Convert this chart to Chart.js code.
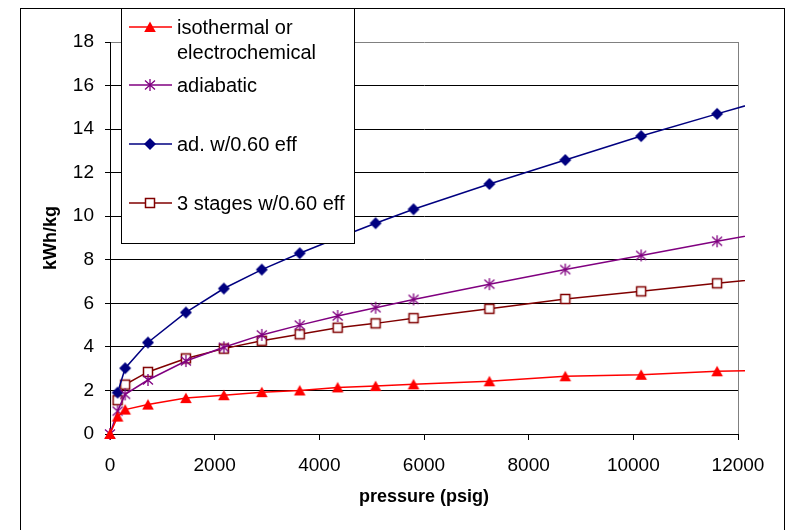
<!DOCTYPE html>
<html>
<head>
<meta charset="utf-8">
<title>kWh/kg vs pressure</title>
<script src="https://cdn.jsdelivr.net/npm/chart.js@4.4.1/dist/chart.umd.min.js"></script>
<style>
  html, body { margin: 0; padding: 0; background: #fff; }
  #wrap { position: relative; width: 787px; height: 530px; }
</style>
</head>
<body>
<div id="wrap"><canvas id="myChart" width="787" height="530"></canvas></div>
<script>
// Pressure points (psig)
const pressure = [0, 145, 290, 725, 1450, 2175, 2900, 3625, 4350, 5075, 5800, 7250, 8700, 10150, 11600, 13050];

// Energy in kWh/kg for each series (null = no point)
const isothermal = [0, 0.8, 1.12, 1.35, 1.65, 1.78, 1.92, 2.0, 2.14, 2.2, 2.28, 2.42, 2.65, 2.72, 2.88, 2.95];
const adiabatic = [0, 1.05, 1.82, 2.48, 3.35, 3.98, 4.55, 5.0, 5.42, 5.8, 6.18, 6.88, 7.55, 8.2, 8.85, 9.48];
const adEff = [null, 1.9, 3.02, 4.2, 5.58, 6.68, 7.55, 8.3, 9.0, 9.68, 10.32, 11.48, 12.58, 13.68, 14.7, 15.7];
const threeStages = [null, 1.55, 2.27, 2.85, 3.47, 3.92, 4.28, 4.58, 4.88, 5.08, 5.32, 5.75, 6.2, 6.55, 6.92, 7.28];

const seriesNames = ['isothermal or\nelectrochemical', 'adiabatic', 'ad. w/0.60 eff', '3 stages w/0.60 eff'];

// Axis ticks
const xTicks = [0, 2000, 4000, 6000, 8000, 10000, 12000];
const yTicks = [0, 2, 4, 6, 8, 10, 12, 14, 16, 18];

const FONT = '"Liberation Sans", Arial, Helvetica, sans-serif';

// Marker pictures like the old Excel ones
function makeMarker(kind, color) {
    const c = document.createElement('canvas');
    c.width = 14;
    c.height = 14;
    const g = c.getContext('2d');
    g.fillStyle = color;
    g.strokeStyle = color;
    if (kind === 'triangle') {
        g.beginPath();
        g.moveTo(7, 1.5);
        g.lineTo(12.8, 12);
        g.lineTo(1.2, 12);
        g.closePath();
        g.fill();
    } else if (kind === 'diamond') {
        g.beginPath();
        g.moveTo(7, 1);
        g.lineTo(13, 7);
        g.lineTo(7, 13);
        g.lineTo(1, 7);
        g.closePath();
        g.fill();
    } else if (kind === 'square') {
        g.fillStyle = '#fff';
        g.fillRect(2, 2, 10, 10);
        g.lineWidth = 1.5;
        g.strokeRect(2.5, 2.5, 9, 9);
    } else {
        // asterisk
        g.lineWidth = 1.3;
        g.beginPath();
        g.moveTo(7, 1); g.lineTo(7, 13);
        g.moveTo(2, 2.5); g.lineTo(12, 11.5);
        g.moveTo(12, 2.5); g.lineTo(2, 11.5);
        g.stroke();
    }
    return c;
}

function toPoints(values) {
    return pressure.map((p, i) => ({ x: p, y: values[i] }));
}

function makeSeries(label, values, color, kind) {
    return {
        label: label,
        data: toPoints(values),
        borderColor: color,
        backgroundColor: color,
        borderWidth: 1.5,
        pointStyle: makeMarker(kind, color),
        pointRadius: 6,
        tension: 0,
        clip: { left: 8, top: 8, right: 7, bottom: 8 }
    };
}

// Outer frame + grey right border of the plot
const framePlugin = {
    id: 'framePlugin',
    beforeDatasetsDraw(chart) {
        const ctx = chart.ctx;
        const a = chart.chartArea;
        ctx.save();
        ctx.strokeStyle = '#808080';
        ctx.lineWidth = 1;
        ctx.beginPath();
        ctx.moveTo(Math.round(a.right) + 0.5, a.top);
        ctx.lineTo(Math.round(a.right) + 0.5, a.bottom);
        ctx.stroke();
        ctx.strokeStyle = '#000';
        ctx.strokeRect(20.5, 8.5, 764, 600);
        ctx.restore();
    }
};

// Legend box sitting over the plot, top left
const legendRows = [27, 85, 144, 203];
const boxLegend = {
    id: 'boxLegend',
    afterDraw(chart) {
        const ctx = chart.ctx;
        ctx.save();
        ctx.fillStyle = '#fff';
        ctx.fillRect(121, 8, 234, 236);
        ctx.strokeStyle = '#000';
        ctx.lineWidth = 1;
        ctx.strokeRect(121.5, 8.5, 233, 235);
        ctx.font = '20px ' + FONT;
        ctx.textBaseline = 'middle';
        chart.data.datasets.forEach((ds, i) => {
            const y = legendRows[i];
            ctx.strokeStyle = ds.borderColor;
            ctx.lineWidth = ds.borderWidth;
            ctx.beginPath();
            ctx.moveTo(129, y);
            ctx.lineTo(172, y);
            ctx.stroke();
            const img = ds.pointStyle;
            ctx.drawImage(img, 150 - img.width / 2, y - img.height / 2);
            ctx.fillStyle = '#000';
            ds.label.split('\n').forEach((t, k) => {
                ctx.fillText(t, 177, y + 1 + k * 25);
            });
        });
        ctx.restore();
    }
};

function chart() {
    const ctx = document.getElementById('myChart').getContext('2d');
    Chart.defaults.font.family = FONT;
    Chart.defaults.color = '#000';

    const myChart = new Chart(ctx, {
        type: 'line',
        data: {
            datasets: [
                makeSeries(seriesNames[0], isothermal, '#ff0000', 'triangle'),
                makeSeries(seriesNames[1], adiabatic, '#800080', 'asterisk'),
                makeSeries(seriesNames[2], adEff, '#000080', 'diamond'),
                makeSeries(seriesNames[3], threeStages, '#800000', 'square')
            ]
        },
        options: {
            responsive: false,
            animation: false,
            devicePixelRatio: 1,
            layout: { padding: { top: 42, right: 49, left: 0, bottom: 0 } },
            plugins: {
                legend: { display: false },
                tooltip: { enabled: false }
            },
            scales: {
                x: {
                    type: 'linear',
                    min: xTicks[0],
                    max: xTicks[xTicks.length - 1],
                    afterBuildTicks: (s) => { s.ticks = xTicks.map(v => ({ value: v })); },
                    afterFit: (s) => { s.height = 96; },
                    grid: { drawOnChartArea: false, tickLength: 6, tickColor: '#000' },
                    border: { color: '#000', width: 1 },
                    ticks: {
                        font: { size: 19 },
                        padding: 14,
                        maxRotation: 0,
                        autoSkip: false,
                        callback: (v) => String(v)
                    },
                    title: {
                        display: true,
                        text: 'pressure (psig)',
                        font: { size: 18, weight: 'bold' },
                        padding: { top: 0, bottom: 22 }
                    }
                },
                y: {
                    min: yTicks[0],
                    max: yTicks[yTicks.length - 1],
                    afterBuildTicks: (s) => { s.ticks = yTicks.map(v => ({ value: v })); },
                    afterFit: (s) => { s.width = 110; },
                    grid: {
                        color: (c) => (c.tick && c.tick.value === 18 ? '#808080' : '#000'),
                        tickColor: '#000',
                        tickLength: 5,
                        lineWidth: 1
                    },
                    border: { color: '#000', width: 1 },
                    ticks: { font: { size: 19 }, padding: 11 },
                    title: {
                        display: true,
                        text: 'kWh/kg',
                        font: { size: 18, weight: 'bold' },
                        padding: { top: 40, bottom: 0 }
                    }
                }
            }
        },
        plugins: [framePlugin, boxLegend]
    });
}

window.addEventListener('load', function () {
    chart();
});
</script>
</body>
</html>
